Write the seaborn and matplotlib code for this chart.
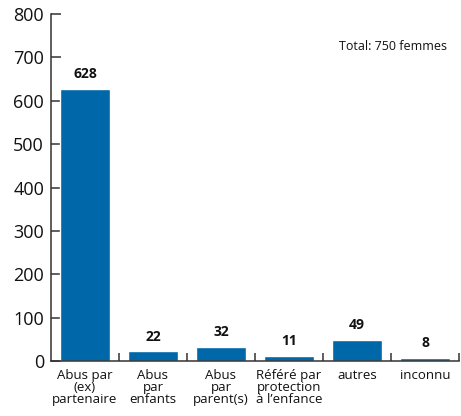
import pandas as pd
import seaborn as sns
import matplotlib.pyplot as plt
from matplotlib.ticker import FixedLocator

sns.set_style('white')
plt.rcParams['font.family'] = ['Open Sans', 'DejaVu Sans']

categories = ['Abus par\n(ex)\npartenaire', 'Abus\npar\nenfants', 'Abus\npar\nparent(s)',
              'Référé par\nprotection\nà l’enfance', 'autres', 'inconnu']
values = [628, 22, 32, 11, 49, 8]
yticks = [0, 100, 200, 300, 400, 500, 600, 700, 800]

df = pd.DataFrame({'cat': categories, 'n': values})

fig = plt.figure(figsize=(4.61, 4.16), dpi=100)
ax = fig.add_axes([0.1106, 0.1322, 0.8851, 0.8341])

sns.barplot(data=df, x='cat', y='n', color='#0067a9', saturation=1, width=0.74, ax=ax)

for i, v in enumerate(values):
    ax.text(i, v + 18, str(v), ha='center', va='bottom', fontsize=10, fontweight='bold', color='#111111')

ax.set_xlim(-0.5, 5.5)
ax.set_ylim(0, 800)
ax.set_yticks(yticks)
ax.set_xlabel('')
ax.set_ylabel('')
sns.despine(ax=ax)
for s in ['left', 'bottom']:
    ax.spines[s].set_color('#333333')
    ax.spines[s].set_linewidth(1.1)

ax.tick_params(axis='y', left=True, direction='in', length=7, width=1.1, color='#333333',
               labelsize=13, labelcolor='#111111', pad=5)
ax.tick_params(axis='x', which='major', bottom=False, labelsize=9.5, labelcolor='#111111', pad=2)
ax.xaxis.set_minor_locator(FixedLocator([0.5, 1.5, 2.5, 3.5, 4.5, 5.5]))
ax.tick_params(axis='x', which='minor', bottom=True, direction='in', length=6, width=1.1, color='#333333')
for lab in ax.get_xticklabels():
    lab.set_linespacing(0.92)

ax.text(0.97, 0.905, 'Total: 750 femmes', transform=ax.transAxes, ha='right', va='center',
        fontsize=9, color='#111111')

plt.savefig('out.png', dpi=100)
